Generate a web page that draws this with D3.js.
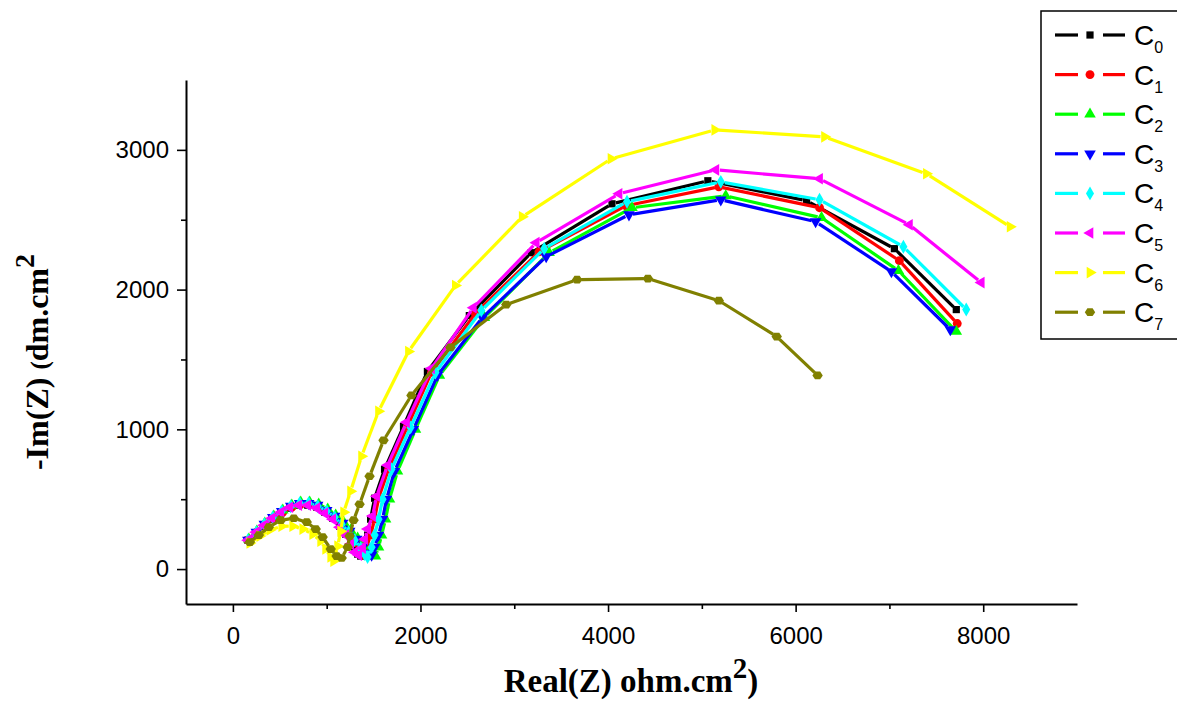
<!DOCTYPE html>
<html>
<head>
<meta charset="utf-8">
<script src="https://cdn.jsdelivr.net/npm/d3@7"></script>
<style>
  body { margin: 0; background: #fff; }
  svg { display: block; }
</style>
</head>
<body>
<svg id="chart"></svg>
<script>
// Series names (subscripts), colours and marker shapes
const seriesNames = ["0", "1", "2", "3", "4", "5", "6", "7"];
const seriesColors = ["#000000", "#ff0000", "#00ff00", "#0000ff", "#00ffff", "#ff00ff", "#ffff00", "#808000"];
const seriesShapes = ["square", "circle", "up", "down", "diamond", "left", "right", "hexagon"];

// Nyquist data [Real(Z), -Im(Z)]
const c0 = [[160,207],[245,257],[330,307],[415,357],[511,400],[606,436],[702,457],[798,457],[894,443],[979,407],
  [1064,364],[1138,307],[1202,250],[1255,193],[1298,143],[1330,107],[1362,93],[1404,157],[1436,243],[1468,357],
  [1511,507],[1617,714],[1819,1021],[2074,1414],[2521,1814],[3181,2264],[4042,2614],[5064,2779],[6117,2636],
  [7053,2293],[7713,1857]];
const c1 = [[160,207],[255,264],[340,314],[436,364],[532,407],[628,443],[723,464],[819,464],[915,443],[1011,407],
  [1096,364],[1181,307],[1255,250],[1320,186],[1362,129],[1394,100],[1426,157],[1468,243],[1511,357],[1553,507],
  [1660,714],[1862,1021],[2117,1407],[2585,1829],[3266,2271],[4191,2600],[5181,2736],[6255,2586],[7106,2207],
  [7723,1757]];
const c2 = [[170,214],[255,271],[340,329],[436,379],[532,421],[628,457],[723,479],[819,479],[915,464],[1011,429],
  [1096,386],[1181,336],[1255,279],[1330,221],[1394,164],[1457,121],[1521,93],[1553,157],[1585,243],[1628,357],
  [1670,500],[1755,700],[1947,1000],[2202,1386],[2681,1800],[3372,2264],[4255,2586],[5255,2671],[6276,2514],
  [7096,2136],[7713,1700]];
const c3 = [[160,207],[250,264],[335,321],[425,371],[520,414],[617,450],[712,471],[808,471],[904,457],[1000,421],
  [1085,379],[1170,329],[1245,271],[1320,214],[1383,157],[1436,114],[1479,100],[1511,157],[1553,243],[1596,357],
  [1638,500],[1723,700],[1925,1000],[2181,1386],[2660,1800],[3340,2236],[4223,2536],[5202,2643],[6213,2486],
  [7021,2129],[7649,1714]];
const c4 = [[160,207],[250,264],[335,321],[425,371],[520,414],[617,450],[712,471],[808,471],[904,450],[1000,414],
  [1085,371],[1160,321],[1234,264],[1298,207],[1362,150],[1404,107],[1436,86],[1479,157],[1511,243],[1553,357],
  [1596,500],[1691,714],[1894,1014],[2160,1407],[2649,1850],[3319,2293],[4202,2629],[5202,2771],[6255,2643],
  [7149,2307],[7819,1857]];
const c5 = [[160,207],[245,264],[330,314],[415,364],[511,407],[606,443],[702,457],[798,457],[894,436],[979,400],
  [1064,357],[1138,300],[1202,243],[1255,179],[1298,121],[1340,100],[1383,150],[1404,214],[1436,286],[1489,379],
  [1532,521],[1649,743],[1851,1050],[2117,1436],[2564,1871],[3234,2336],[4117,2686],[5149,2857],[6255,2793],
  [7213,2464],[7979,2050]];
const c6 = [[181,186],[287,236],[394,279],[521,307],[638,307],[745,286],[851,250],[936,200],[989,143],[1043,86],
  [1074,57],[1117,164],[1149,271],[1181,407],[1255,557],[1372,807],[1553,1129],[1872,1557],[2372,2029],
  [3085,2521],[4032,2936],[5138,3143],[6308,3093],[7394,2829],[8287,2450]];
const c7 = [[181,193],[277,243],[383,300],[511,350],[649,364],[787,336],[883,286],[957,229],[1043,143],[1106,93],
  [1160,79],[1223,157],[1245,236],[1287,350],[1351,464],[1457,664],[1606,921],[1904,1243],[2319,1586],
  [2915,1893],[3670,2071],[4425,2079],[5181,1921],[5798,1664],[6234,1386]];
const series = [c0, c1, c2, c3, c4, c5, c6, c7];

// Axis ticks
const xTicks = [0, 2000, 4000, 6000, 8000];
const xMinorTicks = [1000, 3000, 5000, 7000];
const yTicks = [0, 1000, 2000, 3000];
const yMinorTicks = [500, 1500, 2500];

let width = 1177;
let height = 702;
let gap = 4; // white space left round each marker, like Origin does

let svg = d3.select("#chart").attr("width", width).attr("height", height);

let xScale = d3.scaleLinear().domain([-500, 9000]).range([186, 1077]);
let yScale = d3.scaleLinear().domain([-250, 3500]).range([604, 80]);

let markerPath = (shape) => {
  if (shape == "square") return d3.symbol(d3.symbolSquare, 52)();
  if (shape == "circle") return d3.symbol(d3.symbolCircle, 62)();
  if (shape == "diamond") return d3.symbol(d3.symbolDiamond, 56)();
  if (shape == "hexagon") {
    let r = 5.2;
    let pts = d3.range(6).map((k) => [r * Math.cos(k * Math.PI / 3), 0.85 * r * Math.sin(k * Math.PI / 3)]);
    return "M" + pts.map((p) => p.join(",")).join("L") + "Z";
  }
  return d3.symbol(d3.symbolTriangle, 58)();
};

let markerRotation = (shape) => {
  if (shape == "down") return 180;
  if (shape == "left") return -90;
  if (shape == "right") return 90;
  return 0;
};

// Axes
let drawAxes = () => {
  let xAxis = d3.axisBottom(xScale).tickValues(xTicks).tickSize(8).tickSizeOuter(0).tickFormat(d3.format("d"));
  let gx = svg.append("g").attr("transform", "translate(0," + 604 + ")").call(xAxis);
  svg.append("g").attr("transform", "translate(0," + 604 + ")")
    .call(d3.axisBottom(xScale).tickValues(xMinorTicks).tickSize(5).tickSizeOuter(0).tickFormat(""))
    .select(".domain").remove();

  let yAxis = d3.axisLeft(yScale).tickValues(yTicks).tickSize(9).tickSizeOuter(0).tickFormat(d3.format("d"));
  let gy = svg.append("g").attr("transform", "translate(" + 186 + ",0)").call(yAxis);
  svg.append("g").attr("transform", "translate(" + 186 + ",0)")
    .call(d3.axisLeft(yScale).tickValues(yMinorTicks).tickSize(5).tickSizeOuter(0).tickFormat(""))
    .select(".domain").remove();

  svg.selectAll(".domain").attr("stroke", "#000").attr("stroke-width", 2);
  svg.selectAll(".tick line").attr("stroke", "#000").attr("stroke-width", 1.6);

  gx.selectAll(".tick text")
    .attr("font-family", "Arial, 'Liberation Sans', sans-serif")
    .attr("font-size", 24).attr("fill", "#000").attr("dy", "1.2em");
  gy.selectAll(".tick text")
    .attr("font-family", "Arial, 'Liberation Sans', sans-serif")
    .attr("font-size", 24).attr("fill", "#000").attr("x", -17);

  // axis titles
  let xt = svg.append("text")
    .attr("x", 631).attr("y", 692)
    .attr("text-anchor", "middle")
    .attr("font-family", "'Times New Roman', 'Liberation Serif', serif")
    .attr("font-weight", "bold").attr("font-size", 33);
  xt.append("tspan").text("Real(Z) ohm.cm");
  xt.append("tspan").attr("dy", -14).attr("font-size", 29).text("2");
  xt.append("tspan").attr("dy", 14).text(")");

  let yt = svg.append("text")
    .attr("transform", "translate(48,362) rotate(-90)")
    .attr("text-anchor", "middle")
    .attr("font-family", "'Times New Roman', 'Liberation Serif', serif")
    .attr("font-weight", "bold").attr("font-size", 32);
  yt.append("tspan").text("-Im(Z) ");
  yt.append("tspan").attr("font-size", 25).text("(");
  yt.append("tspan").text("dm.cm");
  yt.append("tspan").attr("dy", -14).attr("font-size", 28).text("2");
};

// Lines (broken round each marker) and markers
let drawSeries = () => {
  series.forEach((pts, i) => {
    let g = svg.append("g");
    let segs = [];
    for (let k = 1; k < pts.length; k++) {
      let x1 = xScale(pts[k - 1][0]), y1 = yScale(pts[k - 1][1]);
      let x2 = xScale(pts[k][0]), y2 = yScale(pts[k][1]);
      let len = Math.hypot(x2 - x1, y2 - y1);
      if (len <= 2 * gap + 1) continue;
      let ux = (x2 - x1) / len, uy = (y2 - y1) / len;
      segs.push([x1 + ux * gap, y1 + uy * gap, x2 - ux * gap, y2 - uy * gap]);
    }
    g.selectAll("line").data(segs).join("line")
      .attr("x1", (d) => d[0]).attr("y1", (d) => d[1])
      .attr("x2", (d) => d[2]).attr("y2", (d) => d[3])
      .attr("stroke", seriesColors[i]).attr("stroke-width", 3.2);

    g.selectAll("path").data(pts).join("path")
      .attr("d", markerPath(seriesShapes[i]))
      .attr("transform", (d) => "translate(" + xScale(d[0]) + "," + yScale(d[1]) + ") rotate(" + markerRotation(seriesShapes[i]) + ")")
      .attr("fill", seriesColors[i]);
  });
};

let drawLegend = () => {
  let lg = svg.append("g");
  lg.append("rect")
    .attr("x", 1041).attr("y", 11).attr("width", 150).attr("height", 328)
    .attr("fill", "#fff").attr("stroke", "#000").attr("stroke-width", 1.5);
  seriesNames.forEach((n, i) => {
    let y = 35 + i * 39.6;
    lg.append("line").attr("x1", 1055).attr("x2", 1078).attr("y1", y).attr("y2", y)
      .attr("stroke", seriesColors[i]).attr("stroke-width", 3.2);
    lg.append("line").attr("x1", 1103).attr("x2", 1125).attr("y1", y).attr("y2", y)
      .attr("stroke", seriesColors[i]).attr("stroke-width", 3.2);
    lg.append("path").attr("d", markerPath(seriesShapes[i]))
      .attr("transform", "translate(1090," + y + ") rotate(" + markerRotation(seriesShapes[i]) + ")")
      .attr("fill", seriesColors[i]);
    let t = lg.append("text").attr("x", 1134).attr("y", y + 10)
      .attr("font-family", "Arial, 'Liberation Sans', sans-serif").attr("font-size", 28);
    t.append("tspan").text("C");
    t.append("tspan").attr("dy", 8).attr("font-size", 16).text(n);
  });
};

drawAxes();
drawSeries();
drawLegend();
</script>
</body>
</html>
